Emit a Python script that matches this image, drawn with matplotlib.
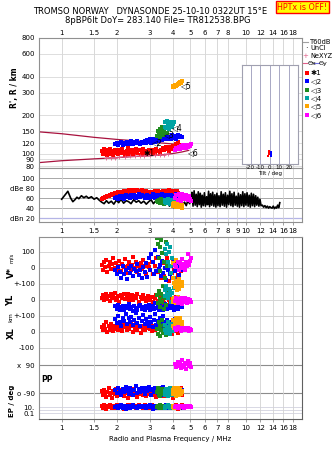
import matplotlib
matplotlib.use("Agg")
import matplotlib.pyplot as plt
from matplotlib.lines import Line2D
from matplotlib.ticker import NullLocator
import numpy as np

# ---- echoes by mode: freq MHz, range km, amplitude dB, V* m/s, YL, XL, PP deg, EP deg
f1 = [1.66, 1.68, 1.70, 1.72, 1.74, 1.77, 1.80, 1.82, 1.85, 1.88, 1.91, 1.94, 1.97, 2.00,
      2.03, 2.06, 2.10, 2.13, 2.17, 2.21, 2.25, 2.29, 2.33, 2.37, 2.41, 2.45, 2.50, 2.54, 2.58, 2.63, 2.68, 2.73, 2.78, 2.83, 2.88, 2.93, 2.98,
      3.03, 3.09, 3.15, 3.21, 3.27, 3.33, 3.40, 3.47,
      3.54, 3.61, 3.68, 3.75, 3.82, 3.89, 3.96, 4.03, 4.10, 4.17, 4.24, 4.30, 4.36, 4.42, 4.50]
r1 = [104, 99, 108, 101, 106, 98, 103, 109, 100, 105, 97, 107, 102, 104,
      99, 106, 101, 108, 103, 98, 105, 110, 100, 104, 107, 99, 103, 109, 101, 106, 98, 104, 108, 100, 105, 102, 107,
      103, 99, 106, 101, 109, 104, 100, 107,
      110, 106, 113, 108, 104, 112, 109, 115, 111, 118, 114, 124, 110, 116, 112]
a1 = [58, 61, 60, 63, 62, 65, 64, 67, 66, 69, 68, 70, 69, 71,
      72, 70, 73, 71, 74, 72, 75, 73, 76, 74, 77, 75, 76, 74, 77, 75, 73, 76, 74, 72, 75, 73, 71,
      70, 73, 71, 74, 72, 75, 73, 70,
      74, 72, 75, 73, 76, 74, 72, 75, 73, 71, 74, 70, 68, 66, 64]
v1 = [20, -10, 35, 5, 50, -25, 15, 40, -5, 25, 60, 0, 30, -15,
      10, 45, -20, 25, 5, 55, -30, 15, 35, -10, 20, 70, 0, 40, -25, 10, 30, -5, 50, 15, -35, 25, 5,
      -15, 35, -40, 10, 60, -25, 20, -60,
      30, -50, 0, 65, -80, 15, -30, 45, -10, -70, 25, -45, 5, -20, 10]
yl1 = [15, 30, 0, 20, 40, 5, 25, -5, 35, 10, 20, 45, 0, 15,
       25, -10, 30, 10, 40, 5, 20, 35, -5, 15, 30, 0, 25, 10, 40, -10, 20, 5, 30, 15, -5, 25, 10,
       0, 20, -15, 10, 30, -5, 15, -20,
       5, -20, 10, -30, 0, -15, 15, -25, -5, 20, -10, -30, 0, -20, 5]
xl1 = [30, 10, 45, 20, 60, 0, 35, 15, 50, 25, 5, 40, 20, 30,
       15, 45, 25, 5, 55, 30, 10, 40, 20, 65, 35, 0, 25, 50, 15, 30, -5, 40, 20, 10, 35, 25, 45,
       20, 5, 40, 15, 30, -10, 25, 10,
       35, 0, 20, 45, 10, 30, -15, 25, 5, 40, 15, -5, 30, 10, 20]
pp1 = [-80, -105, -70, -95, -115, -85, -60, -100, -90, -120, -75, -95, -65, -110,
       -85, -100, -70, -95, -110, -80, -90, -125, -75, -100, -85, -65, -105, -90, -115, -80, -95, -70, -100, -85, -110, -90, -75,
       -95, -80, -105, -90, -115, -85, -100, -70,
       -90, -110, -80, -95, -75, -100, -85, -120, -90, -70, -105, -85, -95, -60, -100]
ep1 = [20, 5, 40, 10, 3, 25, 8, 50, 12, 4, 30, 15, 6, 35,
       10, 45, 7, 20, 3, 30, 12, 60, 5, 18, 40, 8, 25, 4, 15, 50, 9, 22, 6, 35, 11, 28, 5,
       14, 40, 6, 20, 9, 30, 4, 16,
       25, 8, 12, 45, 5, 18, 30, 7, 15, 40, 10, 3, 20, 9, 35]

f2 = [1.95, 1.99, 2.03, 2.07, 2.11, 2.15, 2.19, 2.23, 2.27, 2.31,
      2.35, 2.39, 2.43, 2.47, 2.52, 2.57, 2.62, 2.67, 2.72, 2.77,
      2.82, 2.87, 2.92, 2.97, 3.02, 3.07, 3.12, 3.17, 3.22, 3.27,
      3.32, 3.37, 3.42, 3.47, 3.52, 3.57, 3.62, 3.68, 3.74, 3.80,
      3.86, 3.92, 3.98, 4.05, 4.12, 4.19, 4.26, 4.33, 4.40, 4.48]
r2 = [118, 121, 116, 120, 123, 117, 122, 119, 124, 118,
      121, 125, 119, 123, 120, 126, 122, 118, 124, 121,
      125, 120, 127, 123, 129, 121, 126, 131, 124, 128,
      133, 126, 130, 135, 128, 132, 137, 129, 134, 131,
      136, 130, 139, 133, 137, 131, 140, 135, 138, 134]
a2 = [60, 63, 58, 65, 61, 64, 59, 66, 62, 64,
      60, 66, 63, 67, 61, 65, 68, 62, 66, 64,
      60, 63, 67, 61, 65, 62, 68, 64, 60, 66,
      63, 67, 61, 65, 69, 62, 66, 64, 60, 67,
      63, 66, 61, 65, 62, 68, 64, 60, 63, 59]
v2 = [-10, -40, 5, -25, -60, 10, -35, -15, -70, 0,
      -30, 15, -50, -5, -20, 25, -45, -10, -65, 5,
      -25, 30, -55, 60, -15, 90, 40, -40, 110, -20,
      70, -5, 20, -50, 45, -30, 0, -75, 30, -10,
      -40, 15, -60, 50, -20, -95, 10, -45, 35, -15]
yl2 = [-40, -55, -30, -60, -45, -35, -65, -50, -40, -25,
       -55, -45, -70, -35, -50, -60, -40, -30, -55, -45,
       -65, -40, -50, -30, -60, -45, -35, -55, -20, -50,
       -40, -60, -30, -50, -45, -65, -25, -40, -55, -35,
       -50, -30, -45, -60, -20, -40, -55, -35, -10, -45]
xl2 = [80, 55, 100, 65, 40, 90, 70, 115, 50, 85,
       60, 95, 45, 75, 120, 55, 85, 35, 70, 105,
       50, 80, 65, 40, 95, 60, 30, 75, 110, 45,
       70, 25, 85, 55, 40, 100, 60, 20, 75, 45,
       35, 65, 10, 50, 80, 25, 55, 40, 70, 30]
pp2 = [-70, -90, -55, -80, -100, -65, -85, -50, -75, -95,
       -60, -80, -105, -70, -45, -90, -65, -85, -55, -75,
       -95, -60, -80, -50, -70, -100, -65, -85, -55, -75,
       -90, -60, -80, -105, -70, -50, -85, -65, -95, -75,
       -80, -60, -90, -70, -55, -100, -75, -65, -85, -70]
ep2 = [8, 20, 4, 12, 35, 6, 15, 3, 25, 10,
       5, 18, 40, 9, 14, 4, 22, 7, 30, 11,
       16, 5, 25, 8, 45, 12, 3, 20, 10, 6,
       18, 9, 30, 4, 14, 22, 7, 35, 11, 5,
       15, 8, 25, 12, 4, 20, 10, 30, 6, 14]

f3 = [3.28, 3.32, 3.36, 3.40, 3.44, 3.48, 3.52, 3.56, 3.60, 3.64, 3.68, 3.72]
r3 = [138, 150, 142, 156, 136, 147, 160, 140, 152, 144, 158, 146]
a3 = [55, 52, 57, 50, 54, 58, 51, 56, 49, 53, 57, 52]
v3 = [185, 150, 60, 130, -20, 175, 95, -110, 40, -60, 160, 10]
yl3 = [30, -20, 55, 5, -45, 40, -10, 20, -55, 15, -30, 45]
xl3 = [20, -15, 60, 35, -25, 10, 75, -5, 45, 25, -20, 5]
pp3 = [-85, -60, -100, -75, -110, -90, -65, -95, -80, -105, -70, -90]
ep3 = [10, 25, 6, 15, 40, 8, 20, 5, 12, 30, 9, 18]

f4 = [3.62, 3.66, 3.70, 3.74, 3.78, 3.82, 3.86, 3.90, 3.94, 3.98, 4.03, 4.08]
r4 = [162, 175, 158, 181, 168, 155, 178, 165, 172, 160, 170, 176]
a4 = [52, 56, 50, 54, 58, 51, 55, 49, 53, 57, 50, 54]
v4 = [200, 120, 85, 150, 40, 100, 10, 130, -30, 60, 20, -60]
yl4 = [60, 25, 85, 40, 10, 70, 30, 55, -10, 45, 15, 75]
xl4 = [15, 45, -5, 30, 60, 10, 40, -15, 25, 50, 5, 35]
pp4 = [-80, -100, -65, -90, -110, -75, -95, -60, -85, -105, -70, -90]
ep4 = [12, 5, 25, 8, 40, 15, 6, 20, 10, 30, 7, 18]

f5 = [4.00, 4.04, 4.08, 4.12, 4.16, 4.20, 4.24, 4.28, 4.32, 4.36, 4.40, 4.44, 4.48, 4.53]
r5 = [330, 336, 333, 342, 338, 346, 341, 350, 355, 348, 362, 358, 368, 372]
a5 = [48, 44, 51, 46, 42, 50, 45, 49, 43, 47, 52, 44, 46, 41]
v5 = [30, -60, -95, -120, 50, -80, -140, -105, -70, -130, -90, 10, -115, -85]
yl5 = [5, -10, 15, 0, -20, 10, -5, 20, -15, 0, 10, -10, 5, -5]
xl5 = [40, 75, 25, 60, 85, 30, 55, 20, 70, 45, 90, 35, 65, 50]
pp5 = [-70, -95, -60, -85, -110, -75, -90, -55, -100, -80, -65, -95, -75, -85]
ep5 = [10, 20, 6, 15, 30, 8, 12, 25, 5, 18, 9, 14, 22, 7]

f6 = [4.15, 4.20, 4.26, 4.32, 4.38, 4.44, 4.50, 4.56, 4.62, 4.68, 4.74, 4.80, 4.86, 4.92, 4.98, 5.04]
r6 = [106, 110, 108, 113, 109, 114, 111, 116, 112, 115, 110, 117, 113, 116, 114, 118]
a6 = [60, 66, 57, 69, 63, 55, 68, 61, 64, 58, 67, 62, 56, 65, 59, 54]
v6 = [20, 5, 40, -10, 30, 15, 55, 0, 25, -15, 35, 10, 85, 20, 45, 60]
yl6 = [-5, 10, -20, 5, -10, 15, -25, 0, -15, 10, -5, -20, 5, -10, 0, -15]
xl6 = [25, 12, 30, 18, 22, 8, 28, 15, 20, 10, 26, 14, 24, 6, 18, 12]
pp6 = [95, 75, 110, 85, 100, 70, 120, 90, 80, 105, 65, 95, 115, 85, 100, 78]
ep6 = [10, 18, 6, 14, 25, 8, 12, 20, 5, 15, 30, 9, 16, 7, 22, 11]

mode_names = ['\u27311', '\u25c12', '\u25c13', '\u25c14', '\u25c15', '\u25c16']
mode_colors = ['#ff0000', '#0000ff', '#1f8c1f', '#00a3a3', '#ffa500', '#ff00ff']
# where the mode labels sit in the R' panel (MHz, km)
label_f = [2.78, 3.10, 3.58, 3.95, 4.45, 4.85]
label_km = [101, 121, 141, 160, 340, 102]

# model profile lines and NeXYZ points
prof_f = [0.75, 1.0, 1.5, 2.0, 2.5, 3.0, 3.5, 4.0, 4.5, 4.9]
prof_up_km = [148, 143, 134, 129, 126, 123, 121, 119, 118, 117]
prof_lo_km = [85, 88, 91, 93, 95, 96, 98, 100, 103, 106]
nexyz_f = [1.75, 1.85, 1.95, 2.05, 2.2, 2.35, 2.5, 2.65, 2.8, 3.0, 3.2, 3.4, 3.6, 3.8]
nexyz_km = [92, 93, 93, 94, 94, 95, 95, 96, 96, 97, 97, 98, 98, 99]

# tilt inset
tilt_red = [-1.5, -1.0, -1.2, -0.8]
tilt_red_km = [94, 97, 100, 103]
tilt_blue = [0.8, 1.2, 1.0, 1.4]
tilt_blue_km = [95, 98, 101, 99]

# black amplitude trace in the dB panel
noise_f = [1.00, 1.03, 1.06, 1.08, 1.10, 1.12, 1.15, 1.18, 1.21, 1.24, 1.28, 1.32, 1.36, 1.40, 1.45, 1.50, 1.55, 1.60,
           1.65, 1.70, 1.75, 1.80, 1.86, 1.92, 1.98, 2.04, 2.10, 2.17, 2.24, 2.31, 2.38, 2.46, 2.54, 2.62, 2.70, 2.79, 2.88, 2.97,
           3.06, 3.15, 3.25, 3.35, 3.45, 3.55,
           3.65, 3.75, 3.85, 3.95, 4.05, 4.15, 4.25, 4.35, 4.45, 4.55, 4.65, 4.75, 4.85, 4.95, 5.05,
           5.10, 5.17, 5.24, 5.31, 5.38, 5.45, 5.52, 5.59, 5.66, 5.73, 5.80, 5.88, 5.96, 6.04, 6.12, 6.20, 6.28, 6.36, 6.44, 6.52,
           6.61, 6.70, 6.79, 6.88, 6.97, 7.06, 7.15, 7.25, 7.35, 7.45, 7.55, 7.65, 7.75, 7.86, 7.97, 8.08, 8.19, 8.30, 8.41, 8.52,
           8.64, 8.76, 8.88, 9.00, 9.12, 9.24, 9.37, 9.50, 9.63, 9.76, 9.89, 10.02, 10.16, 10.30, 10.44, 10.58, 10.72, 10.87, 11.02, 11.17,
           11.32, 11.47, 11.62, 11.78, 11.94, 12.10,
           12.3, 12.5, 12.7, 12.9, 13.1, 13.3, 13.5, 13.7, 13.9, 14.1, 14.3, 14.5, 14.7, 14.9, 15.1, 15.3]
noise_db = [58, 64, 70, 74, 67, 60, 53, 57, 62, 59, 65, 61, 64, 60, 63, 58, 61, 56,
            52, 49, 55, 50, 54, 48, 56, 51, 58, 50, 55, 53, 49, 57, 52, 55, 50, 54, 48, 53,
            57, 49, 55, 51, 48, 53,
            46, 52, 44, 50, 41, 48, 43, 51, 40, 47, 52, 45, 56, 49, 58,
            72, 44, 75, 46, 68, 43, 73, 47, 70, 42, 66, 45, 71, 44, 63, 47, 74, 43, 69, 46,
            72, 44, 67, 42, 70, 45, 65, 43, 73, 46, 68, 44, 71, 42, 66, 47, 74, 45, 69, 43,
            72, 46, 64, 44, 70, 42, 67, 45, 73, 43, 69, 46, 71, 44, 66, 42, 70, 45, 68, 43,
            65, 46, 62, 44, 58, 45,
            46, 42, 45, 41, 44, 40, 43, 41, 40, 44, 39, 42, 40, 46, 41, 51]

top_ticks = [1, 1.5, 2, 3, 4, 5, 6, 7, 8, 10, 12, 14, 16, 18]
db_ticks = [1, 1.5, 2, 3, 4, 5, 6, 7, 8, 9, 10, 12, 14, 16, 18]
r_ticks = [80, 90, 100, 120, 150, 200, 300, 400, 600, 800]

modes = [(f1, r1, a1, v1, yl1, xl1, pp1, ep1), (f2, r2, a2, v2, yl2, xl2, pp2, ep2),
         (f3, r3, a3, v3, yl3, xl3, pp3, ep3), (f4, r4, a4, v4, yl4, xl4, pp4, ep4),
         (f5, r5, a5, v5, yl5, xl5, pp5, ep5), (f6, r6, a6, v6, yl6, xl6, pp6, ep6)]

plt.rcParams.update({'font.family': 'DejaVu Sans', 'font.size': 5})

W, H = 335, 451
fig = plt.figure(figsize=(W/100, H/100), dpi=100)

def px(l, t, r, b):                     # pixel box -> figure fraction
    return [l/W, 1-b/H, (r-l)/W, (b-t)/H]

def fx(x, y):                           # pixel point -> figure fraction
    return x/W, 1-y/H

def freq_axis(ax, ticks):
    ax.set_xscale('log')
    ax.set_xlim(0.753, 20.2)
    ax.set_xticks(ticks, [('%g' % t) for t in ticks])
    ax.xaxis.set_minor_locator(NullLocator())
    ax.grid(True, axis='x', color='#d2d2d2', lw=0.6)
    ax.set_axisbelow(True)
    for s in ax.spines.values():
        s.set_color('#909090'); s.set_linewidth(0.8)

sq = dict(ls='none', marker='s', ms=2.2, mew=0)

# ---- R' panel
ax = fig.add_axes(px(39, 38, 302, 168.5))
freq_axis(ax, top_ticks)
ax.set_yscale('log')
ax.set_ylim(76.5, 800)
ax.set_yticks(r_ticks, [str(t) for t in r_ticks])
ax.yaxis.set_minor_locator(NullLocator())
ax.grid(True, axis='y', color='#d8d8d8', lw=0.6)
ax.xaxis.tick_top()
ax.tick_params(axis='x', length=0, pad=1.5, labelsize=5)
ax.tick_params(axis='y', length=0, pad=3, labelsize=5)
ax.plot(prof_f, prof_up_km, color='#a8123e', lw=0.9)
ax.plot(prof_f, prof_lo_km, color='#a8123e', lw=0.9)
for m, c in zip(modes, mode_colors):
    ax.plot(m[0], m[1], color=c, **sq)
ax.plot(nexyz_f, nexyz_km, color='#e0608a', lw=0.6, marker='+', ms=3, mew=0.6)
for name, lf, lk in zip(mode_names, label_f, label_km):
    ax.text(lf, lk, name, fontsize=5.5, ha='left', va='center', color='black')

# ---- amplitude panel
axd = fig.add_axes(px(39, 168.5, 302, 222))
freq_axis(axd, db_ticks)
axd.set_ylim(12, 120)
axd.set_yticks([20, 40, 60, 80, 100], ['dBn 20', '40', '60', 'dBe 80', '100'])
for yv in [40, 60, 80, 100]:
    axd.axhline(yv, color='#a8a8a8', lw=0.7, zorder=0)
axd.axhline(20, color='#b4b4e6', lw=0.9, zorder=0)
axd.tick_params(axis='y', length=0, pad=3, labelsize=5)
axd.tick_params(axis='x', length=2, width=0.6, color='#909090', pad=2, labelsize=5)
axd.plot(noise_f, noise_db, color='black', lw=1.2)
for m, c in zip(modes, mode_colors):
    axd.plot(m[0], m[2], color=c, **sq)

# ---- tilt inset
axt = fig.add_axes(px(242, 65, 298, 164))
axt.set_xlim(-29, 29.5)
axt.set_yscale('log')
axt.set_ylim(81.5, 492)
axt.set_yticks([])
axt.yaxis.set_minor_locator(NullLocator())
axt.set_xticks([-20, -10, 0, 10, 20], ['-20', '-10', '0', '10', '20'])
axt.tick_params(axis='x', length=0, pad=1, labelsize=4)
axt.set_xlabel('Tilt / deg', fontsize=4, labelpad=0.5)
axt.grid(True, axis='x', color='#a8a8c4', lw=0.7)
for s in axt.spines.values():
    s.set_color('#a0a0b0'); s.set_linewidth(0.8)
axt.plot(tilt_red, tilt_red_km, color='#ff0000', ls='none', marker='s', ms=1.6, mew=0)
axt.plot(tilt_blue, tilt_blue_km, color='#0000ff', ls='none', marker='s', ms=1.6, mew=0)

# ---- V*, YL, XL, PP, EP panel (stacked rows)
MS = 0.16                  # row units per m/s (16 per 100)
V0, YL0, XL0 = 151, 119, 87
PP0, PPS = 40, 14/90
EP10 = 12                  # 3 units per decade

axl = fig.add_axes(px(39, 237, 302, 419))
freq_axis(axl, top_ticks)
axl.set_ylim(0, 182)
row_y = [V0+100*MS, V0, V0-100*MS, YL0, YL0-100*MS, XL0, XL0-100*MS]
for yv in row_y:
    axl.axhline(yv, color='#d4d4d4', lw=0.7, zorder=0)
for yv in [PP0+90*PPS, PP0-90*PPS]:
    axl.axhline(yv, color='#8c8c8c', lw=0.8, zorder=0)
for yv in [EP10, EP10-3, EP10-6]:
    axl.axhline(yv, color='#d8d8e4', lw=0.7, zorder=0)
axl.set_yticks(row_y + [PP0+90*PPS, PP0-90*PPS, EP10, EP10-6],
               ['100', '0', '+-100', '0', '+-100', '0', '-100', 'x  90', 'o -90', '10.', '0.1'])
axl.tick_params(axis='y', length=0, pad=3, labelsize=5)
axl.tick_params(axis='x', length=2, width=0.6, color='#909090', pad=2, labelsize=5)
axl.spines['right'].set_color('#606060')
axl.spines['bottom'].set_color('#606060')
for m, c in zip(modes, mode_colors):
    f = m[0]
    axl.plot(f, V0 + np.array(m[3])*MS, color=c, **sq)
    axl.plot(f, YL0 + np.array(m[4])*MS, color=c, **sq)
    axl.plot(f, XL0 + np.array(m[5])*MS, color=c, **sq)
    axl.plot(f, PP0 + np.array(m[6])*PPS, color=c, **sq)
    axl.plot(f, EP10 + 3*np.log10(np.array(m[7])/10.0), color=c, **sq)

# ---- labels
fig.text(*fx(15, 88), "R', R / km", rotation=90, ha='center', va='center', fontsize=5.5, fontweight='bold')
fig.text(*fx(11, 273), 'V*', rotation=90, ha='center', va='center', fontsize=6, fontweight='bold')
fig.text(*fx(11, 258), 'm/s', rotation=90, ha='center', va='center', fontsize=4)
fig.text(*fx(11, 300), 'YL', rotation=90, ha='center', va='center', fontsize=6, fontweight='bold')
fig.text(*fx(11, 317), 'km', rotation=90, ha='center', va='center', fontsize=4.5)
fig.text(*fx(11, 333), 'XL', rotation=90, ha='center', va='center', fontsize=6, fontweight='bold')
fig.text(*fx(46.5, 379), 'PP', ha='center', va='center', fontsize=5.5, fontweight='bold')
fig.text(*fx(12, 401), 'EP / deg', rotation=90, ha='center', va='center', fontsize=5, fontweight='bold')
fig.text(*fx(170.5, 439), 'Radio and Plasma Frequency / MHz', ha='center', va='center', fontsize=5)

fig.text(*fx(150, 12), 'TROMSO NORWAY   DYNASONDE 25-10-10 0322UT 15\u00b0E', ha='center', va='center', fontsize=6)
fig.text(*fx(157.5, 20.5), '8pBP6It DoY= 283.140 File= TR812538.BPG', ha='center', va='center', fontsize=6)
fig.text(*fx(302.5, 7.2), 'HPTx is OFF!', ha='center', va='center', fontsize=5.8, color='#ff0000',
         bbox=dict(boxstyle='square,pad=0.2', fc='#ffff00', ec='#ff0000', lw=1))

# ---- legend on the right
def fig_line(x0, x1, y, c):
    fig.add_artist(Line2D([x0/W, x1/W], [1-y/H, 1-y/H], color=c, lw=0.8, transform=fig.transFigure))

fig_line(303, 308, 42, '#a0a0a0')
fig.text(*fx(310, 42), 'T60dB', va='center', fontsize=4.8)
fig.text(*fx(306, 48.5), '\u00b7', va='center', ha='center', fontsize=6)
fig.text(*fx(310, 48.5), 'UnCl', va='center', fontsize=4.8)
fig.text(*fx(305.5, 55.5), '+', va='center', ha='center', fontsize=5, color='#e0608a')
fig.text(*fx(310, 55.5), 'NeXYZ', va='center', fontsize=4.8)
fig_line(303, 307, 63.3, '#e0608a')
fig.text(*fx(307.5, 63.3), '\u0398x', va='center', fontsize=4.6)
fig_line(314, 318.5, 63.3, '#7070e0')
fig.text(*fx(319, 63.3), '\u0398y', va='center', fontsize=4.6)
for i, (name, c) in enumerate(zip(mode_names, mode_colors)):
    yy = [72.7, 81, 90, 98, 106.3, 115][i]
    fig.add_artist(Line2D([306.5/W], [1-yy/H], ls='none', marker='s', ms=2.6, mew=0, color=c,
                          transform=fig.transFigure))
    fig.text(*fx(311, yy), name, va='center', fontsize=5.2)

fig.savefig('out.png', dpi=100)
